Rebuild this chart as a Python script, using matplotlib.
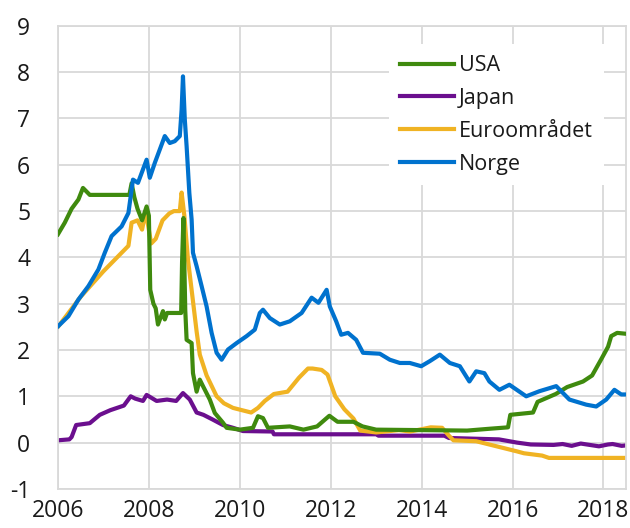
import matplotlib.pyplot as plt

plt.rcParams['font.family'] = ['Open Sans', 'DejaVu Sans']
plt.rcParams['axes.unicode_minus'] = False

# values (year as decimal, percent)
usa_x = [2006.0, 2006.15, 2006.3, 2006.45, 2006.55, 2006.7, 2007.0, 2007.3, 2007.57, 2007.62,
         2007.68, 2007.75, 2007.85, 2007.95, 2008.0, 2008.03, 2008.1, 2008.15, 2008.2, 2008.31,
         2008.35, 2008.4, 2008.71, 2008.73, 2008.76, 2008.8, 2008.83, 2008.94, 2008.97, 2009.05,
         2009.12, 2009.19, 2009.34, 2009.45, 2009.63, 2009.71, 2010.0, 2010.29, 2010.4, 2010.51,
         2010.62, 2011.1, 2011.4, 2011.7, 2011.97, 2012.15, 2012.5, 2012.7, 2013.0, 2014.0,
         2015.0, 2015.5, 2015.9, 2015.95, 2016.45, 2016.55, 2016.95, 2017.2, 2017.55, 2017.75,
         2017.95, 2018.1, 2018.17, 2018.3, 2018.5]
usa_y = [4.5, 4.75, 5.05, 5.25, 5.5, 5.35, 5.35, 5.35, 5.35, 5.6,
         5.3, 5.05, 4.8, 5.1, 4.9, 3.3, 3.0, 2.9, 2.55, 2.84,
         2.66, 2.8, 2.8, 3.9, 4.85, 2.87, 2.22, 2.15, 1.5, 1.1,
         1.36, 1.22, 0.93, 0.64, 0.43, 0.32, 0.28, 0.32, 0.57, 0.53,
         0.32, 0.35, 0.28, 0.35, 0.58, 0.45, 0.45, 0.35, 0.28, 0.27,
         0.26, 0.3, 0.33, 0.6, 0.65, 0.88, 1.05, 1.2, 1.32, 1.45,
         1.8, 2.07, 2.3, 2.37, 2.35]

jp_x = [2006.0, 2006.25, 2006.3, 2006.4, 2006.7, 2006.92, 2007.15, 2007.3, 2007.45, 2007.6,
        2007.7, 2007.87, 2007.95, 2008.17, 2008.4, 2008.6, 2008.75, 2008.9, 2009.05, 2009.2,
        2009.4, 2009.63, 2009.85, 2010.07, 2010.72, 2010.75, 2013.0, 2013.05, 2014.5, 2014.6,
        2015.7, 2016.1, 2016.4, 2016.9, 2017.1, 2017.3, 2017.5, 2017.7, 2017.9, 2018.1,
        2018.2, 2018.4, 2018.5]
jp_y = [0.05, 0.07, 0.12, 0.38, 0.42, 0.6, 0.7, 0.75, 0.8, 1.0,
        0.95, 0.9, 1.03, 0.9, 0.93, 0.9, 1.07, 0.93, 0.65, 0.6,
        0.5, 0.38, 0.32, 0.25, 0.24, 0.18, 0.18, 0.15, 0.15, 0.1,
        0.07, 0.0, -0.04, -0.05, -0.03, -0.07, -0.02, -0.05, -0.08, -0.04,
        -0.03, -0.07, -0.06]

euro_x = [2006.0, 2006.5, 2007.0, 2007.55, 2007.62, 2007.75, 2007.85, 2007.93, 2008.05, 2008.15,
          2008.3, 2008.45, 2008.55, 2008.68, 2008.72, 2008.78, 2008.86, 2008.94, 2009.05, 2009.12,
          2009.27, 2009.49, 2009.65, 2009.85, 2010.25, 2010.4, 2010.55, 2010.75, 2011.05, 2011.3,
          2011.5, 2011.6, 2011.8, 2011.93, 2012.1, 2012.3, 2012.5, 2012.65, 2013.0, 2013.5,
          2013.75, 2014.2, 2014.45, 2014.6, 2014.7, 2015.2, 2015.65, 2016.1, 2016.25, 2016.65,
          2016.8, 2018.5]
euro_y = [2.5, 3.15, 3.7, 4.25, 4.75, 4.8, 4.6, 5.0, 4.3, 4.4,
          4.8, 4.95, 5.0, 5.0, 5.4, 4.9, 3.95, 3.3, 2.4, 1.9,
          1.45, 1.0, 0.85, 0.75, 0.65, 0.75, 0.9, 1.05, 1.1, 1.4,
          1.6, 1.6, 1.57, 1.47, 1.0, 0.72, 0.52, 0.26, 0.22, 0.27,
          0.24, 0.33, 0.32, 0.15, 0.05, 0.03, -0.08, -0.19, -0.23, -0.28,
          -0.33, -0.33]

no_x = [2006.0, 2006.23, 2006.45, 2006.67, 2006.89, 2007.03, 2007.18, 2007.4, 2007.55, 2007.65,
        2007.76, 2007.87, 2007.95, 2008.02, 2008.13, 2008.24, 2008.35, 2008.46, 2008.57, 2008.68,
        2008.72, 2008.75, 2008.79, 2008.83, 2008.89, 2008.94, 2008.97, 2009.05, 2009.16, 2009.27,
        2009.38, 2009.49, 2009.6, 2009.74, 2009.93, 2010.15, 2010.33, 2010.44, 2010.51, 2010.66,
        2010.88, 2011.1, 2011.36, 2011.58, 2011.73, 2011.91, 2011.98, 2012.12, 2012.23, 2012.38,
        2012.56, 2012.71, 2013.08, 2013.3, 2013.52, 2013.74, 2013.99, 2014.18, 2014.4, 2014.62,
        2014.84, 2015.05, 2015.2, 2015.38, 2015.49, 2015.71, 2015.93, 2016.3, 2016.59, 2016.96,
        2017.25, 2017.62, 2017.84, 2018.06, 2018.24, 2018.39, 2018.5]
no_y = [2.51, 2.73, 3.09, 3.38, 3.74, 4.1, 4.46, 4.67, 4.96, 5.68,
        5.61, 5.9, 6.11, 5.72, 6.04, 6.33, 6.62, 6.47, 6.51, 6.62,
        7.19, 7.91, 6.98, 6.4, 5.39, 4.82, 4.1, 3.81, 3.38, 2.94,
        2.37, 1.94, 1.79, 2.01, 2.15, 2.3, 2.44, 2.8, 2.87, 2.69,
        2.55, 2.62, 2.8, 3.13, 3.02, 3.3, 2.94, 2.62, 2.33, 2.37,
        2.22, 1.94, 1.92, 1.79, 1.72, 1.72, 1.65, 1.76, 1.9, 1.72,
        1.65, 1.32, 1.54, 1.5, 1.32, 1.14, 1.25, 1.0, 1.11, 1.22,
        0.93, 0.82, 0.78, 0.93, 1.14, 1.04, 1.04]

years = [2006, 2008, 2010, 2012, 2014, 2016, 2018]
yticks = list(range(-1, 10))

fig = plt.figure(figsize=(6.3, 5.28), dpi=100)
ax = fig.add_axes([0.092, 0.074, 0.902, 0.877])

lw = 3.0
ax.plot(usa_x, usa_y, color='#3f8a0e', lw=lw, label='USA', zorder=3)
ax.plot(jp_x, jp_y, color='#6b0f8e', lw=lw, label='Japan', zorder=2)
ax.plot(euro_x, euro_y, color='#f0b323', lw=lw, label='Euroområdet', zorder=2.5)
ax.plot(no_x, no_y, color='#0072ce', lw=lw, label='Norge', zorder=4)

ax.set_xlim(2006, 2018.5)
ax.set_ylim(-1, 9)
ax.set_xticks(years)
ax.set_yticks(yticks)
ax.grid(True, color='#d9d9d9', lw=1.3)
ax.set_axisbelow(True)
for s in ax.spines.values():
    s.set_color('#d9d9d9')
    s.set_linewidth(1.3)
ax.tick_params(length=0, labelsize=16.5, colors='#1a1a1a')
ax.tick_params(axis='x', pad=7)
ax.tick_params(axis='y', pad=20)

leg = ax.legend(loc='upper left', bbox_to_anchor=(0.583, 0.96), fontsize=15.5,
                frameon=True, fancybox=False, framealpha=1, edgecolor='none',
                handlelength=2.5, handletextpad=0.25, labelspacing=0.55,
                borderpad=0.5, borderaxespad=0)
for t in leg.get_texts():
    t.set_color('#1a1a1a')

fig.savefig('out.png', dpi=100)
